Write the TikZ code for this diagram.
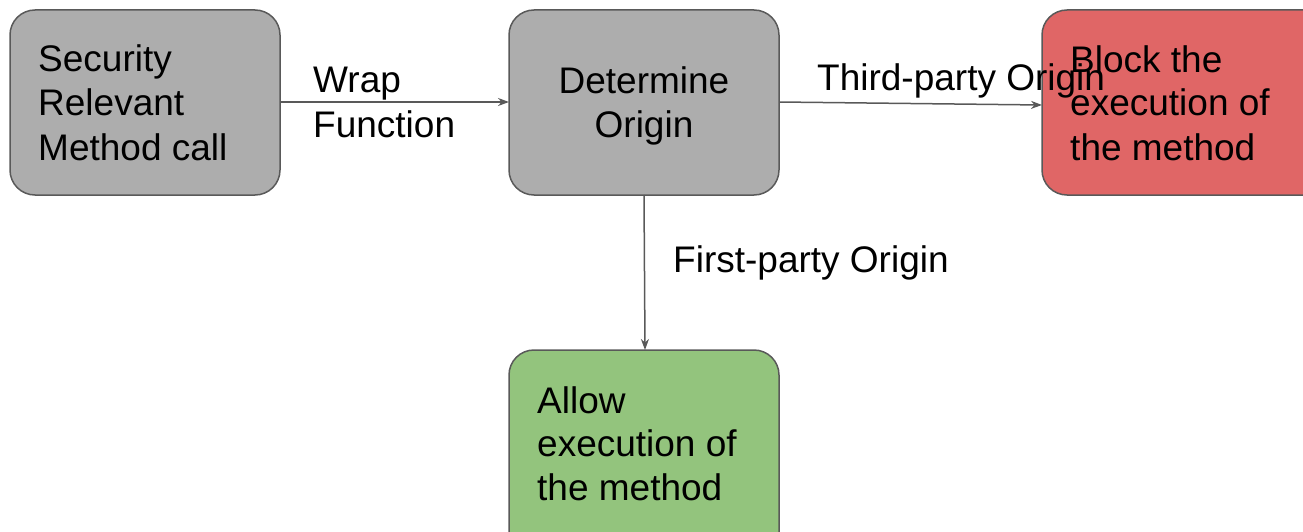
\documentclass[tikz,border=0pt]{standalone}
\usepackage{fontspec}
\setmainfont{Liberation Sans}
\usetikzlibrary{arrows.meta}
\definecolor{boxgray}{HTML}{ADADAD}
\definecolor{boxred}{HTML}{E06666}
\definecolor{boxgreen}{HTML}{93C47D}
\definecolor{edge}{HTML}{595959}
\begin{document}
\begin{tikzpicture}[x=1pt,y=-1pt,
  box/.style={draw=edge, line width=1.5pt, rounded corners=25pt},
  txt/.style={anchor=base west, inner sep=0pt, font=\fontsize{37}{44}\selectfont},
  flow/.style={draw=edge, line width=1.5pt, -{Stealth[length=11pt,width=8pt,inset=3.5pt]}}]
  \useasboundingbox (0,0) rectangle (1303,532);
  \clip (0,0) rectangle (1303,532);

  % boxes
  \path[box, fill=boxgray]  (10,10)   rectangle (280,195);
  \path[box, fill=boxgray]  (509,10)  rectangle (779,195);
  \path[box, fill=boxred]   (1042,10) rectangle (1330,195);
  \path[box, fill=boxgreen] (509,350) rectangle (779,560);

  % connector end points on the box borders
  \coordinate (callR)   at (280,102);
  \coordinate (origL)   at (509,102);
  \coordinate (origR)   at (779,102);
  \coordinate (origB)   at (644,195);
  \coordinate (blockL)  at (1042,105);
  \coordinate (allowT)  at (645,350);

  % connectors
  \draw[flow] (callR) -- (origL);
  \draw[flow] (origR) -- (blockL);
  \draw[flow] (origB) -- (allowT);

  % box texts
  \node[txt] (s1) at (38,72)  {Security};
  \node[txt] (s2) at (38,116) {Relevant};
  \node[txt] (s3) at (38,160) {Method call};

  \node[txt, anchor=base] (d1) at (644,94)  {Determine};
  \node[txt, anchor=base] (d2) at (644,138) {Origin};

  \node[txt] (b1) at (1070,73)  {Block the};
  \node[txt] (b2) at (1070,116) {execution of};
  \node[txt] (b3) at (1070,160) {the method};

  \node[txt] (a1) at (537,413) {Allow};
  \node[txt] (a2) at (537,456) {execution of};
  \node[txt] (a3) at (537,500) {the method};

  % connector labels
  \node[txt] (w1) at (313,93)  {Wrap};
  \node[txt] (w2) at (313,137) {Function};
  \node[txt] (tp) at (817,91)  {Third-party Origin};
  \node[txt] (fp) at (673,272) {First-party Origin};
\end{tikzpicture}
\end{document}
